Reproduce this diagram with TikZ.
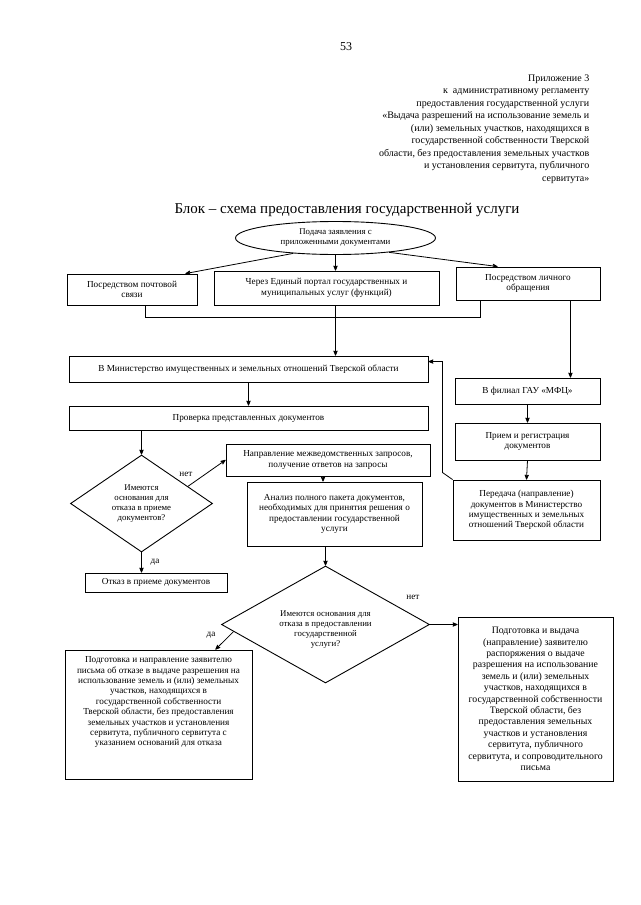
\documentclass[tikz,border=0pt]{standalone}
\usepackage{fontspec}
\setmainfont{Liberation Serif}
\usetikzlibrary{shapes.geometric}
\usetikzlibrary{arrows}
\usetikzlibrary{calc}
\tikzset{
	main box/.style={rectangle,draw,line width=0.9pt,align=center,inner sep=1pt,font=\fontsize{9.2}{10.4}\selectfont},
	main oval/.style={ellipse,draw,line width=0.9pt,align=center,inner sep=0pt,font=\fontsize{8.8}{10}\selectfont},
	main ask/.style={diamond,draw,line width=0.9pt,align=center,inner sep=0pt,font=\fontsize{8.8}{10}\selectfont},
	answer/.style={font=\fontsize{9.2}{10}\selectfont}
}

\begin{document}
\begin{tikzpicture}[->,>=stealth',x=1pt,y=-1pt,line width=0.8pt]
	\useasboundingbox (0,0) rectangle (640,905);
	% page head
	\node [font=\fontsize{12}{14}\selectfont] (page) at (346,47) {53};
	\node [anchor=north east,align=right,font=\fontsize{10}{12.5}\selectfont] (annex) at (593,71)
	  {Приложение 3\\ к\ \ административному регламенту\\ предоставления государственной услуги\\
	   «Выдача разрешений на использование земель и\\ (или) земельных участков, находящихся в\\
	   государственной собственности Тверской\\ области, без предоставления земельных участков\\
	   и установления сервитута, публичного\\ сервитута»};
	\node [font=\fontsize{15}{17}\selectfont] (title) at (347,210) {Блок – схема предоставления государственной услуги};
	% top
	\node [main oval,minimum width=200pt,minimum height=33pt] (zay) at (335.5,238) {Подача заявления с\\приложенными документами};
	\node [main box,minimum width=130pt,minimum height=31pt] (post) at (132,289.5) {Посредством почтовой\\связи};
	\node [main box,minimum width=225pt,minimum height=34pt] (portal) at (326.5,288) {Через Единый портал государственных и\\муниципальных услуг (функций)};
	\node [main box,minimum width=144pt,minimum height=33pt] (lich) at (528,283.5) {Посредством личного\\обращения};
	% left column
	\node [main box,minimum width=359pt,minimum height=26pt] (minist) at (248.5,369) {В Министерство имущественных и земельных отношений Тверской области};
	\node [main box,minimum width=359pt,minimum height=24pt] (prov) at (248.5,418) {Проверка представленных документов};
	\node [main ask,aspect=1.46,minimum width=142pt,minimum height=97pt] (ask1) at (141.5,503.5) {Имеются\\основания для\\отказа в приеме\\документов?};
	\node [main box,minimum width=204pt,minimum height=32pt] (napr) at (328,460) {Направление межведомственных запросов,\\получение ответов на запросы};
	\node [main box,minimum width=175pt,minimum height=64pt] (anal) at (334.5,514) {Анализ полного пакета документов,\\необходимых для принятия решения о\\предоставлении государственной\\услуги};
	\node [main box,minimum width=142pt,minimum height=19pt] (otkaz) at (156,582.5) {Отказ в приеме документов};
	\node [main ask,aspect=1.78,minimum width=208pt,minimum height=117pt] (ask2) at (325.5,624.5) {\mbox{}\\[6pt]Имеются основания для\\отказа в предоставлении\\государственной\\услуги?};
	\node [main box,minimum width=187pt,minimum height=129pt] (refuse) at (158.5,714.5) {Подготовка и направление заявителю\\письма об отказе в выдаче разрешения на\\использование земель и (или) земельных\\участков, находящихся в\\государственной собственности\\Тверской области, без предоставления\\земельных участков и установления\\сервитута, публичного сервитута с\\указанием оснований для отказа\\[16pt]\mbox{}};
	\node [main box,font=\fontsize{9.8}{11.4}\selectfont,minimum width=155pt,minimum height=164pt] (grant) at (535.5,699) {Подготовка и выдача\\(направление) заявителю\\распоряжения о выдаче\\разрешения на использование\\земель и (или) земельных\\участков, находящихся в\\государственной собственности\\Тверской области, без\\предоставления земельных\\участков и установления\\сервитута, публичного\\сервитута, и сопроводительного\\письма};
	% right column
	\node [main box,minimum width=145pt,minimum height=26pt] (mfc) at (527.5,391) {В филиал ГАУ «МФЦ»};
	\node [main box,minimum width=145pt,minimum height=37pt] (reg) at (527.5,441.5) {Прием и регистрация\\документов};
	\node [main box,minimum width=147pt,minimum height=60pt] (send) at (526.5,510) {Передача (направление)\\документов в Министерство\\имущественных и земельных\\отношений Тверской области};
	% answers
	\node [answer] (no1) at (186,474) {нет};
	\node [answer] (yes1) at (155,562) {да};
	\node [answer] (no2) at (413,597) {нет};
	\node [answer] (yes2) at (211,635) {да};
	% connectors
	\coordinate (portal out) at (zay.south |- portal.south);
	\coordinate (lich out) at ($(lich.south east)+(-30,0)$);
	\coordinate (napr out) at ($(napr.south)+(-5,0)$);
	\draw (zay.200) -- ($(post.north east)+(-12,0)$);
	\draw (zay.south) -- (zay.south |- portal.north);
	\draw (zay.-15) -- ($(lich.north west)+(42,0)$);
	\draw [-] ($(post.south)+(13,0)$) -- ++(0,12) -| ($(lich.south west)+(25,0)$);
	\draw (portal out) -- (portal out |- minist.north);
	\draw (lich out) -- (lich out |- mfc.north);
	\draw (minist.south) -- (minist.south |- prov.north);
	\draw (ask1.north |- prov.south) -- (ask1.north);
	\draw ($(ask1.north east)!0.3!(ask1.east)$) -- (napr.west);
	\draw (ask1.south) -- (ask1.south |- otkaz.north);
	\draw (napr out) -- (napr out |- anal.north);
	\draw (ask2.north |- anal.south) -- (ask2.north);
	\draw (ask2.east) -- (ask2.east -| grant.west);
	\draw ($(ask2.west)!0.12!(ask2.south)$) -- ($(refuse.north east)+(-37,0)$);
	\draw (mfc.south) -- (reg.north);
	\draw (reg.south) -- (send.north);
	\draw (send.north west) -- ++(-10,-7) |- ($(minist.north east)+(0,6)$);
\end{tikzpicture}
\end{document}
